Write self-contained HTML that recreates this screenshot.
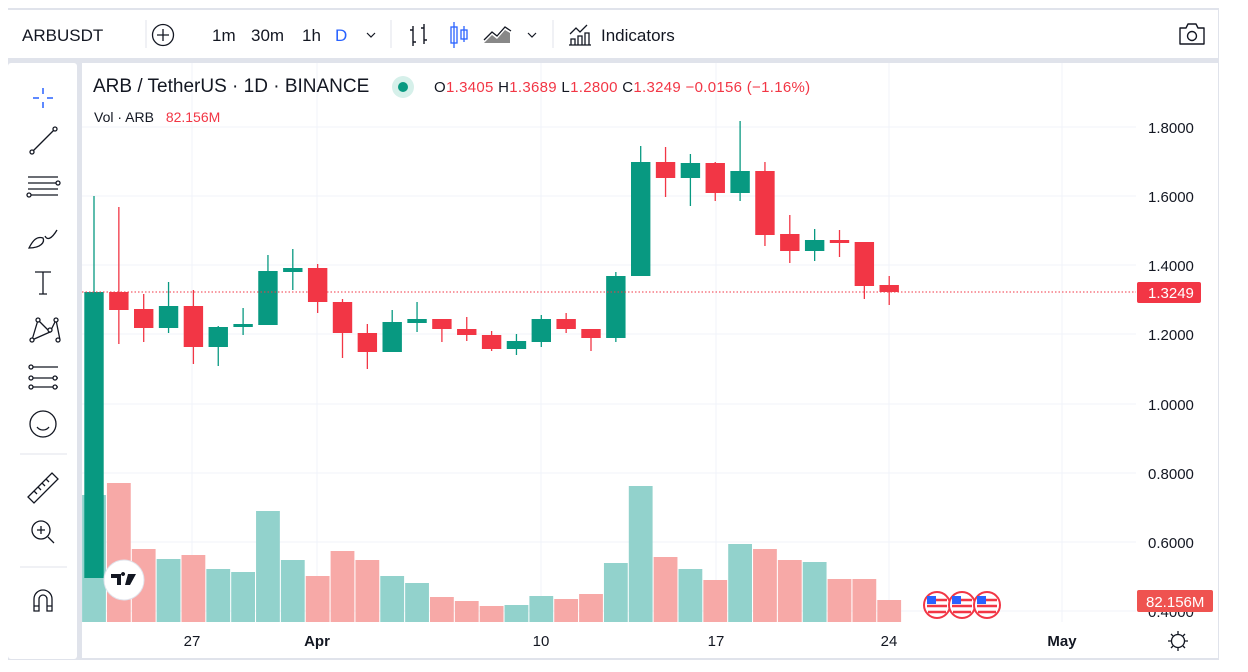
<!DOCTYPE html>
<html><head><meta charset="utf-8"><style>
*{margin:0;padding:0;box-sizing:border-box}
body{width:1248px;height:672px;background:#fff;font-family:"Liberation Sans",sans-serif;position:relative;overflow:hidden}
.t{position:absolute;white-space:nowrap}
</style></head><body>
<svg width="1248" height="672" style="position:absolute;left:0;top:0" font-family="Liberation Sans, sans-serif">
<!-- frame -->
<rect x="8" y="8" width="1211" height="652" fill="#e0e3eb"/>
<rect x="8" y="10" width="1210" height="48" fill="#fff"/>
<rect x="8" y="63" width="69" height="596" fill="#fff" rx="3"/>
<rect x="82" y="63" width="1136" height="595" fill="#fff"/>
<!-- top toolbar -->
<text x="22" y="41" font-size="17" fill="#131722">ARBUSDT</text>
<circle cx="163" cy="35" r="10.5" fill="none" stroke="#131722" stroke-width="1.3"/>
<path d="M157 35h12M163 29v12" stroke="#131722" stroke-width="1.3"/>
<line x1="146" y1="20" x2="146" y2="48" stroke="#e0e3eb"/>
<text x="212" y="41" font-size="17" fill="#131722">1m</text>
<text x="251" y="41" font-size="17" fill="#131722">30m</text>
<text x="302" y="41" font-size="17" fill="#131722">1h</text>
<text x="335" y="41" font-size="17" fill="#2962ff">D</text>
<path d="M367 33l4 4 4-4" fill="none" stroke="#131722" stroke-width="1.2"/>
<line x1="391" y1="20" x2="391" y2="48" stroke="#e0e3eb"/>
<path d="M413 26v20M413 30h-3M413 42h3M424 24v20M424 28h-3M424 40h3" stroke="#131722" stroke-width="1.4" fill="none"/>
<path d="M454 22v26M464 26v16" stroke="#2962ff" stroke-width="1.3"/><rect x="451" y="27" width="6" height="16" fill="none" stroke="#2962ff" stroke-width="1.3"/><rect x="461" y="30" width="6" height="9" fill="none" stroke="#2962ff" stroke-width="1.3"/>
<path d="M484 43l8-8 5 4 8-9 5 3v10h-26z" fill="#888"/><path d="M484 40l8-8 5 4 8-9 6 4" fill="none" stroke="#131722" stroke-width="1.3"/>
<path d="M528 33l4 4 4-4" fill="none" stroke="#131722" stroke-width="1.2"/>
<line x1="553" y1="20" x2="553" y2="48" stroke="#e0e3eb"/>
<path d="M570 34l6-6 4 4 7-7M571 45v-6h4v6M578 45v-9h4v9M585 45v-12h4v12M569 45h22" fill="none" stroke="#131722" stroke-width="1.3"/>
<text x="601" y="41" font-size="17" fill="#131722">Indicators</text>
<path d="M1180 28h6l2-4h8l2 4h6v16h-24z" fill="none" stroke="#131722" stroke-width="1.4" stroke-linejoin="round"/><circle cx="1192" cy="36" r="4.5" fill="none" stroke="#131722" stroke-width="1.4"/>
<!-- left toolbar icons -->
<g stroke="#131722" stroke-width="1.3" fill="none">
<path d="M43 88v6M43 102v6M33 98h6M47 98h6" stroke="#2962ff" stroke-width="1.5"/>
<path d="M32 152l22-22"/><circle cx="32" cy="152" r="2" fill="#fff"/><circle cx="55" cy="129" r="2" fill="#fff"/>
<path d="M28 177h30M28 183h30M28 189h30M28 195h30"/><circle cx="58" cy="183" r="2" fill="#fff"/><circle cx="29" cy="195" r="2" fill="#fff"/>
<path d="M29 248c4-8 8-12 14-10 2 4-2 10-14 10zM45 236c2 4 6 4 12-6"/>
<path d="M35 272h16M43 272v22M39 294h8"/>
<path d="M32 340l6-20 12 12 6-12 4 20M38 320l12 12M32 340l18-8"/><circle cx="32" cy="340" r="2" fill="#fff"/><circle cx="38" cy="320" r="2" fill="#fff"/><circle cx="50" cy="330" r="2" fill="#fff"/><circle cx="56" cy="320" r="2" fill="#fff"/><circle cx="58" cy="340" r="2" fill="#fff"/>
<path d="M32 367h26M32 378h26M32 387h26"/><circle cx="31" cy="367" r="2" fill="#fff"/><circle cx="31" cy="378" r="2" fill="#fff"/><circle cx="31" cy="387" r="2" fill="#fff"/><circle cx="55" cy="378" r="2" fill="#fff"/><circle cx="55" cy="387" r="2" fill="#fff"/>
<circle cx="43" cy="424" r="13"/><path d="M37 427c3 4 9 4 12 0"/>
<path d="M28 497l24-24 6 6-24 24z M34 491l3 3M38 487l3 3M42 483l3 3M46 479l3 3"/>
<circle cx="41" cy="530" r="9"/><path d="M37 530h8M41 526v8M48 537l6 6"/>
<path d="M34 611v-12a9 9 0 0 1 18 0v12h-5v-12a4 4 0 0 0-8 0v12zM34 606h5M47 606h5"/>
</g>
<line x1="20" y1="454" x2="67" y2="454" stroke="#e0e3eb"/>
<line x1="20" y1="567" x2="67" y2="567" stroke="#e0e3eb"/>
<!-- grid -->
<g stroke="#f0f3fa" stroke-width="1">
<line x1="82" y1="127" x2="1136" y2="127"/><line x1="82" y1="196" x2="1136" y2="196"/><line x1="82" y1="265" x2="1136" y2="265"/><line x1="82" y1="334" x2="1136" y2="334"/><line x1="82" y1="404" x2="1136" y2="404"/><line x1="82" y1="473" x2="1136" y2="473"/><line x1="82" y1="542" x2="1136" y2="542"/><line x1="82" y1="611" x2="1136" y2="611"/>
<line x1="192" y1="63" x2="192" y2="622"/><line x1="317" y1="63" x2="317" y2="622"/><line x1="541" y1="63" x2="541" y2="622"/><line x1="716" y1="63" x2="716" y2="622"/><line x1="889" y1="63" x2="889" y2="622"/><line x1="1062" y1="63" x2="1062" y2="622"/>
</g>
<g id="vol"></g>
<g id="cdl"></g>
<line x1="82" y1="292" x2="1136" y2="292" stroke="#f23645" stroke-dasharray="1.5 2" stroke-width="1"/>
<!-- price axis -->
<g font-size="15" fill="#131722">
<text x="1148" y="133">1.8000</text><text x="1148" y="202">1.6000</text><text x="1148" y="271">1.4000</text><text x="1148" y="340">1.2000</text><text x="1148" y="410">1.0000</text><text x="1148" y="479">0.8000</text><text x="1148" y="548">0.6000</text><text x="1148" y="617">0.4000</text>
</g>
<rect x="1137" y="282" width="64" height="21" rx="2" fill="#f23645"/>
<text x="1148" y="298" font-size="15" fill="#fff">1.3249</text>
<rect x="1137" y="590" width="76" height="22" rx="2" fill="#ef5350"/>
<text x="1146" y="607" font-size="15" fill="#fff">82.156M</text>
<!-- time axis -->
<g font-size="15" fill="#131722" text-anchor="middle">
<text x="192" y="646">27</text><text x="317" y="646" font-weight="bold">Apr</text><text x="541" y="646">10</text><text x="716" y="646">17</text><text x="889" y="646">24</text><text x="1062" y="646" font-weight="bold">May</text>
</g>
<circle cx="1178" cy="641" r="6.5" fill="none" stroke="#131722" stroke-width="1.3"/>
<path d="M1178 631v3M1178 648v3M1168 641h3M1185 641h3M1171 634l2 2M1183 646l2 2M1185 634l-2 2M1171 648l2-2" stroke="#131722" stroke-width="1.3"/>
<!-- TV logo -->
<circle cx="124" cy="580" r="20" fill="#fff" stroke="#e0e3eb"/>
<path d="M111 574h10v11h-4v-7h-6zM123 576a2 2 0 1 1 0.1 0zM128 574h8l-6 11h-5z" fill="#131722"/>
<!-- flags -->
<g id="flags"></g>
</svg>
<div class="t" style="left:93px;top:76px;font-size:19px;color:#131722">ARB / TetherUS · 1D · BINANCE</div>
<div style="position:absolute;left:392px;top:76px;width:22px;height:22px;border-radius:50%;background:#d6f0ea"></div>
<div style="position:absolute;left:398px;top:82px;width:10px;height:10px;border-radius:50%;background:#089981"></div>
<div class="t" style="left:434px;top:79px;font-size:15px;color:#131722;letter-spacing:0.3px">O<span style="color:#f23645">1.3405</span> H<span style="color:#f23645">1.3689</span> L<span style="color:#f23645">1.2800</span> C<span style="color:#f23645">1.3249</span> <span style="color:#f23645">−0.0156 (−1.16%)</span></div>
<div class="t" style="left:94px;top:109px;font-size:14px;color:#131722">Vol · ARB <span style="color:#f23645;margin-left:8px">82.156M</span></div>
<script>
var G='#089981',R='#f23645';
var c=[[292,578,196,578,G],[292,310,207,344,R],[309,328,294,342,R],[306,328,282,333,G],[306,347,290,364,R],[327,347,326,366,G],[324,327,308,335,G],[271,325,255,325,G],[268,272,249,290,G],[268,302,264,313,R],[302,333,299,358,R],[333,352,324,369,R],[322,352,310,352,G],[319,323,302,332,G],[319,329,319,342,R],[329,335,317,341,R],[335,349,331,351,R],[341,349,334,355,G],[319,342,315,347,G],[319,329,313,333,R],[329,338,329,351,R],[276,338,272,342,G],[162,276,146,276,G],[162,178,147,197,R],[163,178,154,206,G],[163,193,162,201,R],[171,193,121,201,G],[171,235,162,246,R],[234,251,215,263,R],[240,251,229,261,G],[240,243,230,257,R],[242,286,242,299,R],[285,292,276,305,R]];
var v=[495,483,549,559,555,569,572,511,560,576,551,560,576,583,597,601,606,605,596,599,594,563,486,557,569,580,544,549,560,562,579,579,600];
var s='',w='';
for(var i=0;i<33;i++){var x=94+i*24.85,d=c[i],col=d[4];
var vc=col==G?'#92d2cc':'#f7a9a7';
w+='<rect x="'+(x-11.9)+'" y="'+v[i]+'" width="23.8" height="'+(622-v[i])+'" fill="'+vc+'"/>';
s+='<line x1="'+x+'" y1="'+d[2]+'" x2="'+x+'" y2="'+d[3]+'" stroke="'+col+'" stroke-width="1.3"/>';
s+='<rect x="'+(x-9.7)+'" y="'+d[0]+'" width="19.4" height="'+Math.max(2,d[1]-d[0])+'" fill="'+col+'"/>';}
document.getElementById('vol').innerHTML=w;document.getElementById('cdl').innerHTML=s;
var f='';[937,962,987].forEach(function(x){f+='<circle cx="'+x+'" cy="605" r="13" fill="#fff" stroke="#f23645" stroke-width="2"/><path d="M'+(x-10)+' 600h20M'+(x-10)+' 606h20M'+(x-9)+' 612h18" stroke="#f23645" stroke-width="2.5"/><rect x="'+(x-10)+'" y="596" width="9" height="8" fill="#2962ff"/>';});
document.getElementById('flags').innerHTML=f;
</script>
</body></html>
